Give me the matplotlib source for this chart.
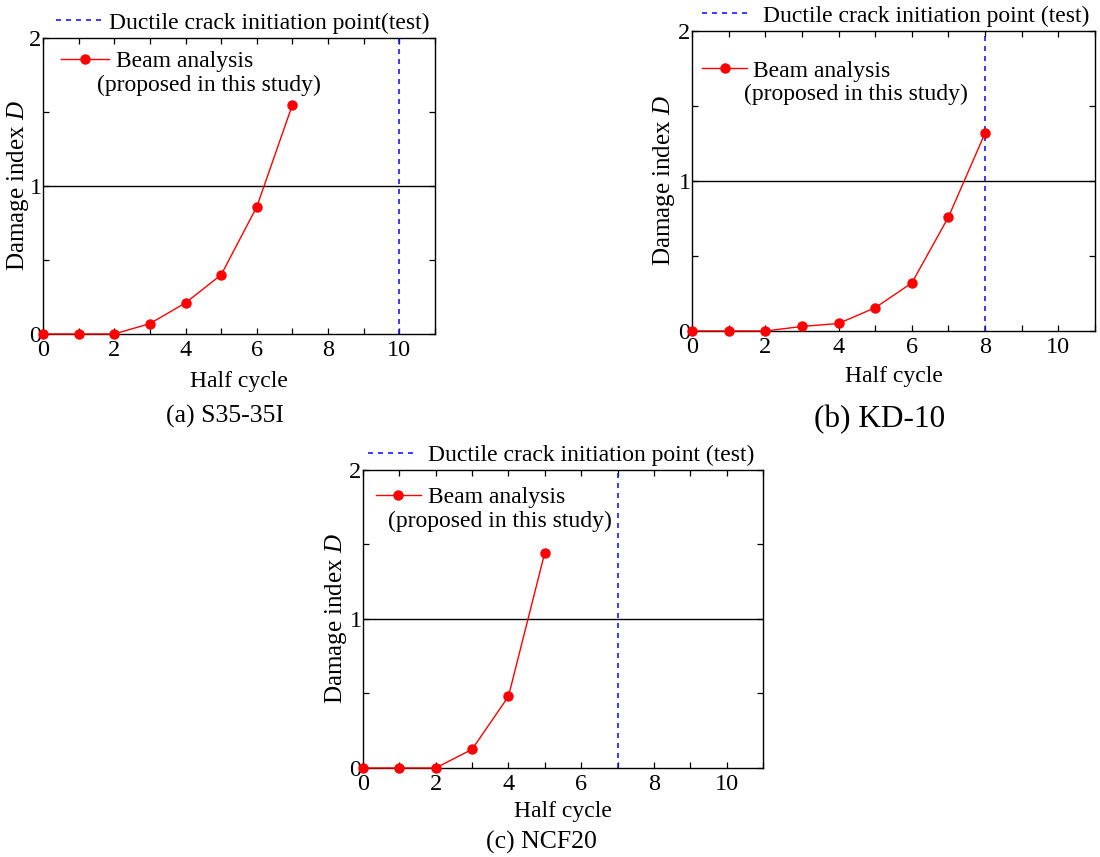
import matplotlib
matplotlib.use("Agg")
import matplotlib.pyplot as plt
from matplotlib.ticker import MultipleLocator

plt.rcParams['font.family'] = ['Liberation Serif', 'DejaVu Serif']
plt.rcParams['mathtext.fontset'] = 'custom'
plt.rcParams['mathtext.rm'] = 'Liberation Serif'
plt.rcParams['mathtext.it'] = 'Liberation Serif:italic'

FS = 17
TICK_FS = 17.5
YLAB_FS = 18

# ---- data ----
half_cycle_a = [0, 1, 2, 3, 4, 5, 6, 7]
damage_a = [0.0, 0.0, 0.0, 0.07, 0.21, 0.40, 0.86, 1.55]
crack_a = 10

half_cycle_b = [0, 1, 2, 3, 4, 5, 6, 7, 8]
damage_b = [0.0, 0.0, 0.0, 0.03, 0.05, 0.155, 0.32, 0.76, 1.32]
crack_b = 8

half_cycle_c = [0, 1, 2, 3, 4, 5]
damage_c = [0.0, 0.0, 0.0, 0.125, 0.48, 1.445]
crack_c = 7

x_ticks = [0, 2, 4, 6, 8, 10]
y_ticks = [0, 1, 2]

crack_label_a = "Ductile crack initiation point(test)"
crack_label = "Ductile crack initiation point (test)"
beam_label = "Beam analysis"
beam_label2 = "(proposed in this study)"

fig = plt.figure(figsize=(11, 8.57), dpi=100)

panels = [
    dict(rect=[0.0391, 0.6103, 0.3564, 0.3454], x=half_cycle_a, y=damage_a, crack=crack_a,
         clab=crack_label_a, top=(0.033, 1.051, 2.0, 0.26), beam=(0.046, 0.922, 2.05, 0.26),
         beam2=(0.138, 0.841), ylx=-0.03, xly=-0.125,
         cap="(a) S35-35I", capxy=(225/1100, 1-416/857), capfs=18.5),
    dict(rect=[0.6291, 0.6138, 0.3664, 0.3501], x=half_cycle_b, y=damage_b, crack=crack_b,
         clab=crack_label, top=(0.025, 1.05, 2.1, 0.5), beam=(0.025, 0.867, 1.9, 0.26),
         beam2=(0.129, 0.787), ylx=-0.038, xly=-0.117,
         cap="(b) KD-10", capxy=(880/1100, 1-420/857), capfs=22.5),
    dict(rect=[0.33, 0.1039, 0.3636, 0.3477], x=half_cycle_c, y=damage_c, crack=crack_c,
         clab=crack_label, top=(0.0125, 1.05, 2.1, 0.43), beam=(0.0325, 0.909, 1.9, 0.3),
         beam2=(0.0625, 0.826), ylx=-0.036, xly=-0.11,
         cap="(c) NCF20", capxy=(541/1100, 1-842/857), capfs=18.5),
]

for p in panels:
    ax = fig.add_axes(p['rect'])
    ax.set_xlim(0, 11)
    ax.set_ylim(0, 2)
    ax.axhline(1, color='black', lw=1.0, zorder=2)
    vl = ax.axvline(p['crack'], color='#1a1aff', lw=1.2, dashes=(3, 3), zorder=2)
    ln, = ax.plot(p['x'], p['y'], color='red', lw=1.0, marker='o', ms=6.5,
                  clip_on=False, zorder=5)
    ax.xaxis.set_major_locator(plt.FixedLocator(x_ticks))
    ax.xaxis.set_minor_locator(MultipleLocator(1))
    ax.yaxis.set_major_locator(plt.FixedLocator(y_ticks))
    ax.yaxis.set_minor_locator(MultipleLocator(0.5))
    ax.tick_params(which='both', direction='in', top=True, right=True,
                   length=4.5, width=0.9, labelsize=TICK_FS)
    ax.tick_params(axis='x', pad=4)
    ax.tick_params(axis='y', pad=1)
    for s in ax.spines.values():
        s.set_linewidth(1.0)
    ax.set_xlabel("Half cycle", fontsize=FS)
    ax.set_ylabel("Damage index $\\mathit{D}$", fontsize=YLAB_FS)
    ax.yaxis.set_label_coords(p['ylx'], 0.5)
    ax.xaxis.set_label_coords(0.5, p['xly'])

    tx, ty, hl, hp = p['top']
    leg1 = ax.legend([vl], [p['clab']], loc='center left', bbox_to_anchor=(tx, ty),
                     frameon=False, fontsize=FS, handlelength=hl, handletextpad=hp,
                     borderpad=0, borderaxespad=0)
    ax.add_artist(leg1)
    bx, by, bhl, bhp = p['beam']
    ax.legend([ln], [beam_label], loc='center left', bbox_to_anchor=(bx, by),
              frameon=False, fontsize=FS, handlelength=bhl, handletextpad=bhp,
              borderpad=0, borderaxespad=0, numpoints=1)
    ax.text(p['beam2'][0], p['beam2'][1], beam_label2, transform=ax.transAxes,
            fontsize=FS, ha='left', va='center')

    fig.text(p['capxy'][0], p['capxy'][1], p['cap'], fontsize=p['capfs'],
             ha='center', va='center')

fig.savefig("out.png", dpi=100)
